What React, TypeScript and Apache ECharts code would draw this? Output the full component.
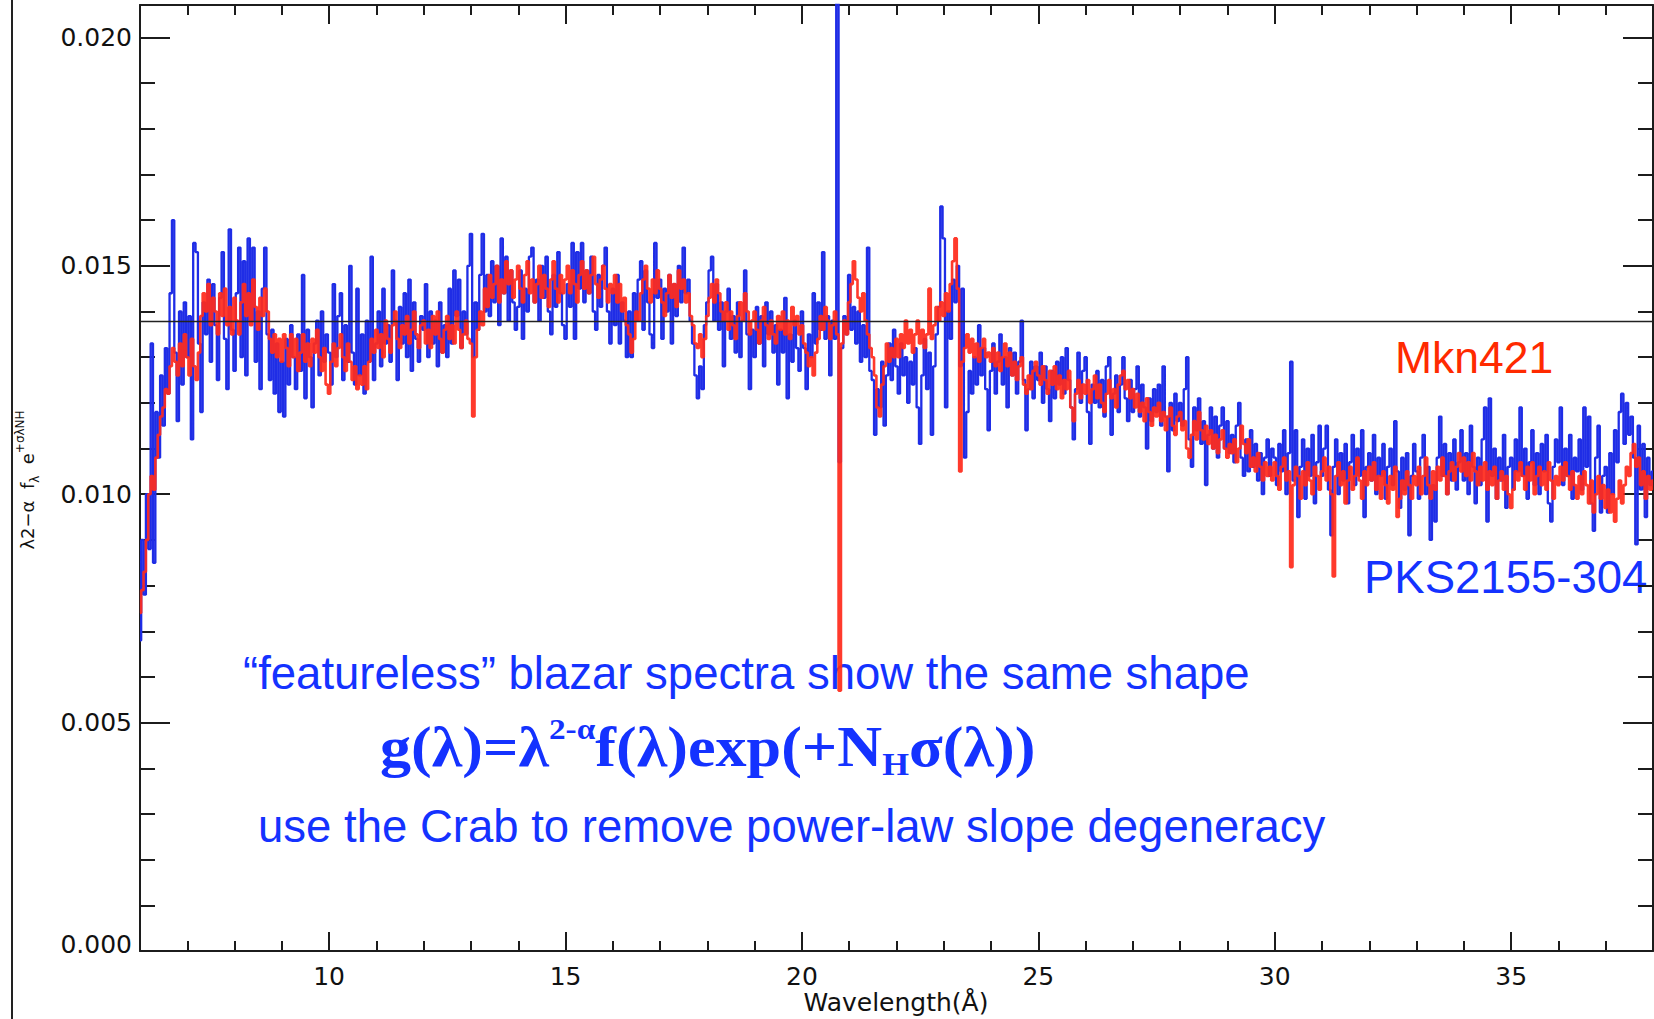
import React, { useEffect, useRef } from 'react';
import * as echarts from 'echarts';

// ---------------- data ----------------
// wavelength grid (Angstrom)
const WAVE_MIN = 6;
const WAVE_MAX = 38;
const PKS_START = 6.0;
const PKS_STEP = 0.05;
const MKN_START = 6.0;
const MKN_STEP = 0.05;
// flux values are stored in units of 1e-5
const FLUX_UNIT = 1e-5;
const Y_MAX = 0.02071;
const REFERENCE_LEVEL = 0.01378;

// PKS2155-304 (blue), one row per Angstrom, 0.05 A bins
const pks2155Flux = [
  680, 900, 780, 1000, 880, 1330, 850, 1180, 1080, 1260, 1150, 1320, 1220, 1440, 1600, 1310, 1160, 1400, 1240, 1420,
  1300, 1390, 1120, 1550, 1530, 1330, 1180, 1420, 1350, 1470, 1290, 1460, 1370, 1250, 1430, 1530, 1340, 1230, 1580, 1360,
  1270, 1440, 1540, 1300, 1510, 1260, 1560, 1380, 1540, 1290, 1400, 1230, 1450, 1540, 1350, 1250, 1360, 1220, 1330, 1180,
  1290, 1170, 1340, 1240, 1370, 1300, 1230, 1350, 1270, 1480, 1210, 1360, 1300, 1190, 1330, 1380, 1260, 1400, 1290, 1350,
  1310, 1240, 1460, 1300, 1390, 1440, 1250, 1370, 1290, 1500, 1310, 1240, 1450, 1260, 1350, 1220, 1380, 1290, 1520, 1250,
  1330, 1400, 1280, 1450, 1330, 1370, 1290, 1490, 1380, 1250, 1410, 1330, 1440, 1300, 1470, 1270, 1420, 1340, 1290, 1390,
  1360, 1460, 1300, 1400, 1330, 1380, 1280, 1420, 1310, 1370, 1300, 1450, 1330, 1490, 1390, 1470, 1320, 1400, 1350, 1500,
  1570, 1300, 1420, 1360, 1480, 1570, 1400, 1480, 1390, 1510, 1420, 1500, 1370, 1560, 1440, 1520, 1380, 1490, 1420, 1360,
  1410, 1490, 1340, 1450, 1400, 1520, 1540, 1420, 1470, 1380, 1500, 1430, 1520, 1400, 1350, 1480, 1410, 1530, 1440, 1370,
  1340, 1460, 1410, 1550, 1340, 1530, 1450, 1550, 1420, 1490, 1440, 1520, 1400, 1360, 1480, 1410, 1500, 1540, 1400, 1330,
  1450, 1370, 1480, 1330, 1420, 1380, 1300, 1400, 1300, 1440, 1380, 1470, 1510, 1360, 1490, 1420, 1350, 1320, 1550, 1430,
  1470, 1340, 1450, 1400, 1480, 1330, 1460, 1390, 1500, 1420, 1540, 1440, 1470, 1380, 1330, 1260, 1210, 1280, 1230, 1370,
  1420, 1490, 1520, 1380, 1460, 1360, 1420, 1280, 1400, 1450, 1340, 1390, 1310, 1420, 1300, 1380, 1490, 1350, 1230, 1360,
  1300, 1410, 1330, 1390, 1280, 1420, 1350, 1400, 1310, 1370, 1240, 1360, 1310, 1430, 1210, 1350, 1290, 1380, 1320, 1270,
  1400, 1320, 1230, 1350, 1300, 1440, 1330, 1420, 1360, 1530, 1340, 1390, 1260, 1380, 1340, 2100, 1070, 1320, 1390, 1350,
  1480, 1360, 1410, 1330, 1400, 1290, 1370, 1300, 1540, 1270, 1250, 1130, 1230, 1190, 1290, 1150, 1260, 1330, 1250, 1360,
  1280, 1220, 1330, 1260, 1300, 1200, 1290, 1240, 1320, 1190, 1110, 1260, 1340, 1230, 1310, 1130, 1280, 1350, 1410, 1630,
  1560, 1190, 1400, 1340, 1470, 1420, 1500, 1280, 1450, 1080, 1180, 1270, 1220, 1300, 1240, 1370, 1260, 1320, 1230, 1140,
  1270, 1330, 1220, 1290, 1350, 1240, 1300, 1190, 1320, 1260, 1310, 1220, 1290, 1380, 1250, 1140, 1230, 1290, 1210, 1280,
  1250, 1310, 1200, 1280, 1230, 1160, 1270, 1210, 1290, 1240, 1300, 1220, 1320, 1250, 1190, 1120, 1230, 1310, 1200, 1270,
  1300, 1180, 1110, 1240, 1200, 1270, 1190, 1250, 1170, 1280, 1300, 1130, 1220, 1260, 1180, 1240, 1300, 1210, 1160, 1250,
  1180, 1230, 1280, 1170, 1240, 1190, 1100, 1210, 1160, 1230, 1180, 1240, 1150, 1280, 1170, 1050, 1200, 1140, 1220, 1160,
  1200, 1150, 1230, 1300, 1120, 1060, 1190, 1140, 1210, 1110, 1160, 1020, 1130, 1190, 1100, 1170, 1080, 1150, 1190, 1100,
  1160, 1090, 1130, 1070, 1150, 1200, 1080, 1040, 1120, 1050, 1140, 1060, 1110, 1030, 1090, 1000, 1080, 1120, 1040, 1100,
  1080, 1020, 1110, 1050, 1140, 1000, 1090, 1290, 1030, 1140, 950, 1060, 1120, 990, 1100, 1040, 1130, 980, 1070, 1150,
  1040, 1100, 1150, 1010, 910, 1060, 1120, 1000, 1090, 1030, 1110, 980, 1070, 1130, 1020, 1100, 1040, 1140, 950, 1060,
  1090, 1030, 1130, 1000, 1080, 1040, 1110, 990, 1060, 1100, 1020, 1160, 1050, 970, 1080, 1010, 1090, 910, 1040, 1110,
  1050, 990, 1080, 1130, 1000, 1060, 900, 1020, 940, 1080, 1170, 1040, 1110, 1000, 1090, 1030, 1120, 1010, 1070, 1140,
  1030, 1090, 1000, 1150, 1060, 980, 1080, 1020, 1120, 1190, 940, 1210, 1040, 1100, 990, 1080, 1030, 1130, 970, 1060,
  1080, 1010, 1120, 1050, 1190, 1040, 1100, 990, 1070, 1140, 1020, 1090, 1000, 1110, 1050, 1130, 980, 940, 1060, 1120,
  1070, 1190, 1020, 1100, 1040, 1130, 990, 1080, 1050, 1120, 1010, 1190, 1060, 1170, 980, 920, 1080, 1150, 960, 1040,
  1060, 960, 1090, 1000, 1140, 1070, 1180, 1220, 1110, 1200, 1130, 1170, 1080, 890, 1150, 1010, 1110, 950, 1080, 1020, 1050,
];

// Mkn421 (red), one row per Angstrom, 0.05 A bins
const mkn421Flux = [
  740, 790, 830, 900, 1000, 1040, 1010, 1080, 1130, 1170, 1190, 1230, 1220, 1280, 1320, 1290, 1260, 1330, 1280, 1350,
  1300, 1260, 1340, 1280, 1250, 1310, 1390, 1440, 1400, 1460, 1370, 1430, 1400, 1350, 1440, 1390, 1450, 1370, 1410, 1350,
  1430, 1380, 1350, 1420, 1460, 1390, 1440, 1370, 1470, 1410, 1360, 1430, 1390, 1450, 1400, 1340, 1310, 1350, 1300, 1340,
  1290, 1350, 1320, 1280, 1350, 1300, 1340, 1270, 1310, 1350, 1290, 1330, 1280, 1340, 1310, 1360, 1300, 1270, 1320, 1240,
  1220, 1290, 1330, 1280, 1320, 1350, 1300, 1270, 1330, 1290, 1250, 1280, 1230, 1260, 1240, 1280, 1230, 1290, 1340, 1310,
  1360, 1320, 1350, 1300, 1380, 1340, 1310, 1370, 1400, 1340, 1320, 1370, 1350, 1390, 1330, 1360, 1400, 1350, 1320, 1370,
  1380, 1330, 1360, 1320, 1390, 1350, 1400, 1340, 1310, 1360, 1390, 1340, 1370, 1330, 1400, 1360, 1320, 1350, 1380, 1340,
  1330, 1170, 1300, 1360, 1400, 1370, 1450, 1410, 1480, 1430, 1460, 1500, 1420, 1470, 1440, 1510, 1460, 1490, 1430, 1470,
  1500, 1450, 1420, 1480, 1510, 1440, 1470, 1420, 1460, 1500, 1430, 1480, 1450, 1410, 1470, 1510, 1450, 1420, 1480, 1440,
  1470, 1500, 1440, 1490, 1460, 1420, 1480, 1510, 1450, 1490, 1440, 1480, 1520, 1460, 1430, 1470, 1500, 1450, 1420, 1460,
  1440, 1480, 1420, 1460, 1400, 1430, 1370, 1350, 1310, 1340, 1400, 1380, 1440, 1470, 1500, 1450, 1420, 1470, 1440, 1490,
  1450, 1420, 1390, 1440, 1480, 1430, 1460, 1410, 1490, 1450, 1470, 1420, 1440, 1390, 1370, 1330, 1320, 1350, 1300, 1340,
  1390, 1430, 1460, 1420, 1470, 1440, 1400, 1380, 1420, 1360, 1400, 1370, 1340, 1390, 1420, 1380, 1440, 1400, 1350, 1380,
  1400, 1360, 1330, 1380, 1410, 1370, 1340, 1380, 1350, 1330, 1390, 1360, 1400, 1350, 1380, 1340, 1410, 1370, 1390, 1350,
  1370, 1330, 1310, 1280, 1300, 1260, 1310, 1340, 1390, 1360, 1410, 1380, 1340, 1370, 1400, 1350, 570, 1330, 1380, 1350,
  1420, 1460, 1510, 1470, 1430, 1400, 1440, 1380, 1350, 1320, 1300, 1260, 1190, 1170, 1240, 1280, 1330, 1290, 1320, 1300,
  1340, 1300, 1350, 1320, 1380, 1330, 1360, 1310, 1350, 1380, 1330, 1360, 1320, 1350, 1450, 1340, 1370, 1410, 1380, 1420,
  1390, 1440, 1400, 1460, 1510, 1560, 1450, 1050, 1290, 1320, 1350, 1310, 1340, 1300, 1330, 1290, 1320, 1340, 1300, 1310,
  1290, 1320, 1280, 1310, 1270, 1300, 1330, 1280, 1310, 1260, 1290, 1250, 1280, 1300, 1240, 1220, 1260, 1230, 1270, 1290,
  1260, 1240, 1280, 1250, 1220, 1270, 1240, 1280, 1230, 1260, 1210, 1250, 1230, 1270, 1190, 1160, 1220, 1250, 1210, 1240,
  1220, 1250, 1200, 1230, 1260, 1210, 1240, 1200, 1180, 1220, 1250, 1210, 1230, 1190, 1240, 1260, 1270, 1230, 1250, 1210,
  1230, 1190, 1220, 1180, 1200, 1160, 1210, 1180, 1150, 1190, 1170, 1200, 1160, 1180, 1140, 1170, 1190, 1150, 1130, 1170,
  1180, 1140, 1160, 1100, 1080, 1130, 1160, 1120, 1180, 1140, 1120, 1150, 1110, 1140, 1100, 1130, 1090, 1120, 1140, 1100,
  1080, 1110, 1090, 1120, 1070, 1100, 1150, 1110, 1090, 1120, 1060, 1080, 1050, 1090, 1060, 1030, 1070, 1040, 1060, 1030,
  1070, 1040, 1010, 1060, 1080, 1030, 1050, 840, 1020, 1060, 1040, 990, 1050, 1020, 1070, 1030, 1000, 1060, 1040, 1010,
  1050, 1080, 1030, 1060, 1000, 820, 1040, 1070, 1020, 1050, 980, 1030, 1060, 1010, 1040, 1080, 1030, 990, 1050, 1020,
  1060, 1030, 1070, 1010, 1040, 990, 1050, 1020, 980, 1040, 1010, 1060, 950, 990, 1030, 1000, 1050, 1020, 990, 1040,
  1020, 1060, 1000, 1040, 1080, 1020, 990, 1050, 1010, 1060, 1030, 1080, 1040, 1000, 1050, 1070, 1030, 1060, 1090, 1050,
  1080, 1040, 1070, 1030, 1090, 1050, 1020, 1060, 1030, 1070, 1010, 1050, 1020, 1060, 990, 1030, 1050, 1010, 1040, 1000,
  970, 1010, 1050, 1030, 1070, 1040, 1010, 1060, 1030, 1070, 1000, 1040, 1060, 1020, 1050, 1010, 1070, 1030, 990, 1040,
  1020, 1060, 1030, 1070, 1040, 1010, 1050, 1020, 990, 1040, 1000, 1050, 1020, 980, 1030, 960, 1000, 1040, 990, 1020,
  970, 1010, 960, 1000, 940, 990, 1030, 980, 1020, 1060, 1040, 1090, 1110, 1060, 1080, 1020, 1050, 990, 1040, 1010, 1030,
];

const X_MAJOR_STEP = 5;
const X_MINOR_STEP = 1;
const Y_MAJOR_STEP = 0.005;
const Y_MINOR_STEP = 0.001;

const ANNOTATION_LINES = [
  '\u201Cfeatureless\u201D blazar spectra show the same shape',
  'use the Crab to remove power-law slope degeneracy',
];
const SOURCE_NAMES = ['Mkn421', 'PKS2155-304'];

// ---------------- styles ----------------
const AXIS_COLOR = '#1c1c1c';
const SPEC_BLUE = '#1f2de6';
const SPEC_RED = '#ff2b1c';
const TEXT_BLUE = '#1432ff';
const TEXT_RED = '#ff2a00';
const TICK_FONT = 'DejaVu Sans';

function toPairs(values: number[], start: number, step: number) {
  return values.map((v, i) => [Number((start + i * step).toFixed(3)), v * FLUX_UNIT]);
}

function xAxisDef(position: 'bottom' | 'top', major: boolean, showLabel: boolean) {
  const base: any = {
    type: 'value',
    position,
    min: WAVE_MIN,
    max: WAVE_MAX,
    axisLine: { show: major, onZero: false, lineStyle: { color: AXIS_COLOR, width: 2 } },
    axisTick: { show: true, inside: true, length: major ? 19 : 10, lineStyle: { color: AXIS_COLOR, width: 2 } },
    axisLabel: showLabel
      ? {
          show: true,
          margin: 13,
          fontSize: 25,
          fontFamily: TICK_FONT,
          color: '#111',
          showMinLabel: false,
          showMaxLabel: false,
          formatter: (v: number) => (v % X_MAJOR_STEP === 0 ? String(v) : ''),
        }
      : { show: false },
    splitLine: { show: false },
  };
  if (major) {
    base.minInterval = X_MAJOR_STEP;
    base.maxInterval = X_MAJOR_STEP;
    base.splitNumber = 6;
  } else {
    base.interval = X_MINOR_STEP;
  }
  return base;
}

function yAxisDef(position: 'left' | 'right', major: boolean, showLabel: boolean) {
  return {
    type: 'value',
    position,
    min: 0,
    max: Y_MAX,
    interval: major ? Y_MAJOR_STEP : Y_MINOR_STEP,
    axisLine: { show: major, onZero: false, lineStyle: { color: AXIS_COLOR, width: 2 } },
    axisTick: { show: true, inside: true, length: major ? 30 : 15, lineStyle: { color: AXIS_COLOR, width: 2 } },
    axisLabel: showLabel
      ? {
          show: true,
          margin: 8,
          fontSize: 25,
          fontFamily: TICK_FONT,
          color: '#111',
          showMaxLabel: false,
          formatter: (v: number) => {
            const k = v / Y_MAJOR_STEP;
            if (Math.abs(k - Math.round(k)) > 1e-6) return '';
            return v === 0 ? '{lo|' + v.toFixed(3) + '}' : v.toFixed(3);
          },
          rich: {
            lo: { fontSize: 25, fontFamily: TICK_FONT, color: '#111', padding: [0, 0, 14, 0] },
          },
        }
      : { show: false },
    splitLine: { show: false },
  };
}

function buildOption() {
  return {
    animation: false,
    backgroundColor: '#ffffff',
    grid: { left: 140, top: 5, right: 1, bottom: 68, containLabel: false, outerBoundsMode: 'none' },
    xAxis: [
      xAxisDef('bottom', true, true),
      xAxisDef('bottom', false, false),
      xAxisDef('top', true, false),
      xAxisDef('top', false, false),
    ],
    yAxis: [
      yAxisDef('left', true, true),
      yAxisDef('left', false, false),
      yAxisDef('right', true, false),
      yAxisDef('right', false, false),
    ],
    series: [
      {
        name: SOURCE_NAMES[1],
        type: 'line',
        xAxisIndex: 0,
        yAxisIndex: 0,
        step: 'middle',
        symbol: 'none',
        data: toPairs(pks2155Flux, PKS_START, PKS_STEP),
        lineStyle: { color: SPEC_BLUE, width: 2.3 },
        z: 2,
      },
      {
        name: SOURCE_NAMES[0],
        type: 'line',
        xAxisIndex: 0,
        yAxisIndex: 0,
        step: 'middle',
        symbol: 'none',
        data: toPairs(mkn421Flux, MKN_START, MKN_STEP),
        lineStyle: { color: SPEC_RED, width: 2.6, opacity: 0.93 },
        z: 3,
      },
      {
        name: 'reference',
        type: 'line',
        xAxisIndex: 0,
        yAxisIndex: 0,
        symbol: 'none',
        data: [
          [WAVE_MIN, REFERENCE_LEVEL],
          [WAVE_MAX, REFERENCE_LEVEL],
        ],
        lineStyle: { color: '#222', width: 1.6 },
        z: 4,
      },
    ],
    graphic: {
      elements: [
        {
          type: 'line',
          shape: { x1: 12, y1: 0, x2: 12, y2: 1019 },
          style: { stroke: '#222', lineWidth: 2 },
        },
        {
          type: 'text',
          x: 896,
          y: 1002,
          style: {
            text: 'Wavelength(\u00C5)',
            fontSize: 25,
            fontFamily: TICK_FONT,
            fill: '#111',
            textAlign: 'center',
            textVerticalAlign: 'middle',
            align: 'center',
            verticalAlign: 'middle',
          },
        },
        {
          type: 'text',
          x: 27,
          y: 480,
          rotation: Math.PI / 2,
          style: {
            text: '{a|\u03BB2\u2212\u03B1  f}{b|\u03BB}{a|  e}{c|+\u03C3\u03BBNH}',
            textAlign: 'center',
            textVerticalAlign: 'middle',
            align: 'center',
            verticalAlign: 'middle',
            fill: '#111',
            rich: {
              a: { fontSize: 18, fontFamily: TICK_FONT, fill: '#111', lineHeight: 27, verticalAlign: 'middle' },
              b: { fontSize: 12, fontFamily: TICK_FONT, fill: '#111', lineHeight: 15, verticalAlign: 'bottom' },
              c: { fontSize: 12, fontFamily: TICK_FONT, fill: '#111', lineHeight: 15, verticalAlign: 'top' },
            },
          },
        },
        {
          type: 'text',
          x: 1395,
          y: 357,
          style: {
            text: SOURCE_NAMES[0],
            fontSize: 44.5,
            fontFamily: 'Liberation Sans',
            fill: TEXT_RED,
            textAlign: 'left',
            textVerticalAlign: 'middle',
            align: 'left',
            verticalAlign: 'middle',
          },
        },
        {
          type: 'text',
          x: 1364,
          y: 577,
          style: {
            text: SOURCE_NAMES[1],
            fontSize: 45.5,
            fontFamily: 'Liberation Sans',
            fill: TEXT_BLUE,
            textAlign: 'left',
            textVerticalAlign: 'middle',
            align: 'left',
            verticalAlign: 'middle',
          },
        },
        {
          type: 'text',
          x: 243,
          y: 673,
          style: {
            text: ANNOTATION_LINES[0],
            fontSize: 45.5,
            fontFamily: 'Liberation Sans',
            fill: TEXT_BLUE,
            textAlign: 'left',
            textVerticalAlign: 'middle',
            align: 'left',
            verticalAlign: 'middle',
          },
        },
        {
          type: 'text',
          x: 380,
          y: 747,
          scaleX: 1.11,
          style: {
            text: '{m|g(\u03BB)=\u03BB}{p|2-\u03B1}{m|f(\u03BB)exp(+N}{s|H}{m|\u03C3(\u03BB))}',
            textAlign: 'left',
            textVerticalAlign: 'middle',
            align: 'left',
            verticalAlign: 'middle',
            fill: TEXT_BLUE,
            rich: {
              m: { fontSize: 56, fontFamily: 'Liberation Serif', fontWeight: 'bold', fill: TEXT_BLUE, lineHeight: 66, verticalAlign: 'middle' },
              p: { fontSize: 30, fontFamily: 'Liberation Serif', fontWeight: 'bold', fill: TEXT_BLUE, lineHeight: 40, verticalAlign: 'top' },
              s: { fontSize: 31, fontFamily: 'Liberation Serif', fontWeight: 'bold', fill: TEXT_BLUE, lineHeight: 28, verticalAlign: 'bottom' },
            },
          },
        },
        {
          type: 'text',
          x: 258,
          y: 826,
          style: {
            text: ANNOTATION_LINES[1],
            fontSize: 45.5,
            fontFamily: 'Liberation Sans',
            fill: TEXT_BLUE,
            textAlign: 'left',
            textVerticalAlign: 'middle',
            align: 'left',
            verticalAlign: 'middle',
          },
        },
      ],
    },
  };
}

export default function App() {
  const ref = useRef<HTMLDivElement>(null);
  useEffect(() => {
    if (!ref.current) return;
    const chart = echarts.init(ref.current, null, { renderer: 'svg' });
    chart.setOption(buildOption() as any);
    return () => {
      chart.dispose();
    };
  }, []);
  return (
    <div
      ref={ref}
      style={{ position: 'absolute', left: 0, top: 0, width: 1654, height: 1019, background: '#ffffff' }}
    />
  );
}
